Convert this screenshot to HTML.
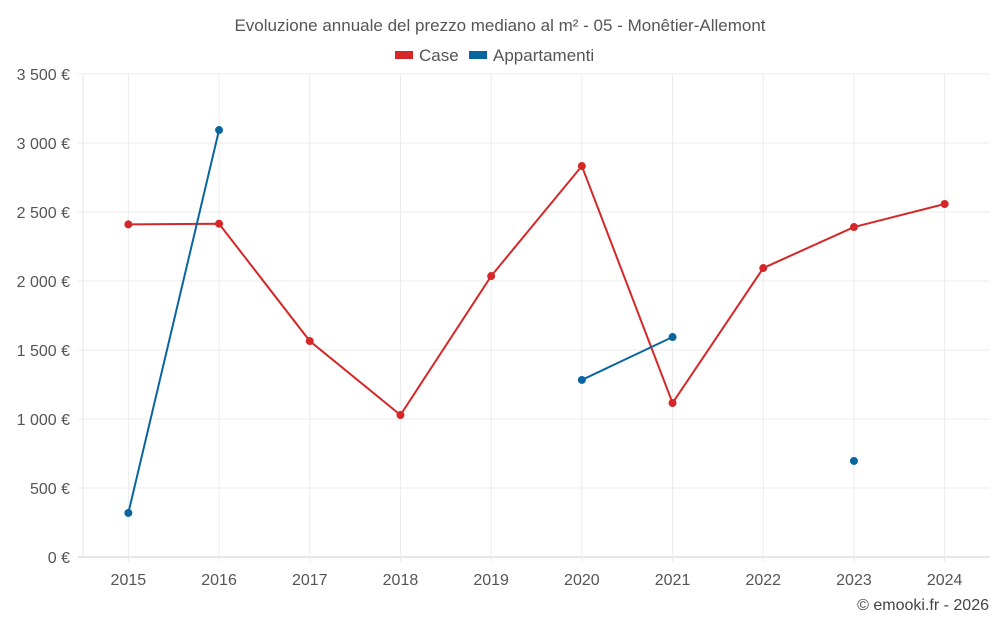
<!DOCTYPE html>
<html><head><meta charset="utf-8"><style>
body{margin:0;background:#fff;font-family:"Liberation Sans",Roboto,sans-serif}
svg text{font-family:"Liberation Sans",sans-serif}
</style></head><body>
<svg id="chart" width="1000" height="625">
<text x="500" y="31" text-anchor="middle" font-size="17" fill="#555">Evoluzione annuale del prezzo mediano al m² - 05 - Monêtier-Allemont</text>
<g><rect x="395" y="51" width="18" height="8" fill="#d62728"/><text x="419" y="61" font-size="17" fill="#555">Case</text></g>
<g><rect x="469" y="51" width="18" height="8" fill="#08659e"/><text x="493" y="61" font-size="17" fill="#555">Appartamenti</text></g>
<g id="grid"></g><g id="axes"></g><g id="series"></g>
<text x="989" y="610" text-anchor="end" font-size="16" fill="#444">© emooki.fr - 2026</text>
</svg>
<script>
const years=["2015","2016","2017","2018","2019","2020","2021","2022","2023","2024"];
const caseValues=[2410,2415,1565,1029,2036,2833,1116,2094,2391,2558];
const apptValues=[319,3094,null,null,null,1283,1594,null,696,null];
const yTicks=[0,500,1000,1500,2000,2500,3000,3500];
const yTickLabels=["0 €","500 €","1 000 €","1 500 €","2 000 €","2 500 €","3 000 €","3 500 €"];
const L=83,R=990,T=74,B=557,NS="http://www.w3.org/2000/svg";
const band=(R-L)/years.length;
const x=i=>L+band*(i+0.5);
const y=v=>B-(v/3500)*(B-T);
function mk(tag,attrs,parent){const e=document.createElementNS(NS,tag);for(const k in attrs)e.setAttribute(k,attrs[k]);document.getElementById(parent).appendChild(e);return e;}
mk("line",{x1:L,x2:L,y1:T,y2:B,stroke:"#e6e6e6"},"grid");
yTicks.forEach((v,i)=>{
 const g=mk("line",{x1:L-5,x2:R,y1:y(v),y2:y(v),stroke:i==0?"#ccc":"#ebebeb"},"grid");
 
 
 const t=mk("text",{x:70,y:y(v)+6,"text-anchor":"end","font-size":"16",fill:"#555"},"axes");t.textContent=yTickLabels[i];
 
 
});
years.forEach((yr,i)=>{
 const g=mk("line",{x1:x(i),x2:x(i),y1:T,y2:B+5,stroke:"#ebebeb"},"grid");
 
 
 const t=mk("text",{x:x(i),y:585,"text-anchor":"middle","font-size":"16",fill:"#555"},"axes");t.textContent=yr;
 
 
});
function draw(vals,color,name){
 let seg=[];const segs=[];
 vals.forEach((v,i)=>{if(v==null){if(seg.length)segs.push(seg);seg=[];}else seg.push([x(i),y(v)]);});
 if(seg.length)segs.push(seg);
 segs.forEach(s=>{if(s.length>1){const p=mk("polyline",{points:s.map(q=>q.join(",")).join(" "),fill:"none",stroke:color,"stroke-width":2},"series");
  
  }});
 vals.forEach((v,i)=>{if(v==null)return;const c=mk("circle",{cx:x(i),cy:y(v),r:4,fill:color},"series");
  
  });
}
draw(caseValues,"#d62728","case");
draw(apptValues,"#08659e","appartamenti");
</script>
</body></html>
